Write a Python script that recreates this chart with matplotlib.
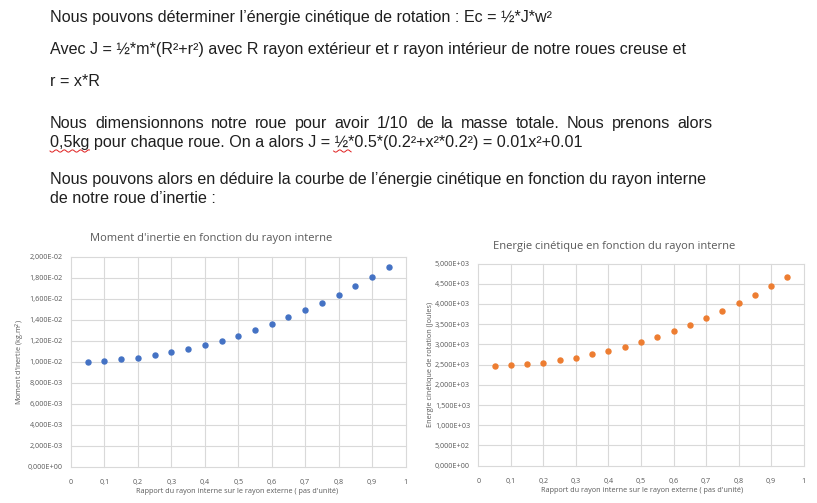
import numpy as np
import matplotlib
matplotlib.use("Agg")
import matplotlib.pyplot as plt
from matplotlib.ticker import FixedLocator, FuncFormatter

# data
ratio = [0.05, 0.1, 0.15, 0.2, 0.25, 0.3, 0.35, 0.4, 0.45, 0.5,
         0.55, 0.6, 0.65, 0.7, 0.75, 0.8, 0.85, 0.9, 0.95]
inertie = [0.01003, 0.0101, 0.01023, 0.0104, 0.01063, 0.0109, 0.01123, 0.0116, 0.01203, 0.0125,
           0.01303, 0.0136, 0.01423, 0.0149, 0.01563, 0.0164, 0.01723, 0.0181, 0.01903]
energie = [2455, 2478, 2505, 2550, 2603, 2670, 2752, 2843, 2946, 3062,
           3192, 3332, 3485, 3652, 3830, 4020, 4220, 4435, 4662]

W, H = 817, 503
fig = plt.figure(figsize=(W / 100, H / 100), dpi=100)
fig.patch.set_facecolor("white")

TXT = "#1f1f1f"
BODY = dict(fontsize=11.6, family=["Liberation Sans", "DejaVu Sans"], color=TXT, va="baseline")
BASE = 4.3  # baseline sits a bit below the visual line centre


def px(x, y):
    return x / W, 1 - y / H


def line(x, y, s):
    fig.text(*px(x, y + BASE), s, **BODY)


def width(s):
    r = fig.canvas.get_renderer()
    t = fig.text(0, 0, s, **BODY)
    w = t.get_window_extent(r).width
    t.remove()
    return w


def justified(words, x0, y, x1):
    ws = [width(w) for w in words]
    gap = (x1 - x0 - sum(ws)) / (len(words) - 1)
    x = x0
    for w, wd in zip(words, ws):
        line(x, y, w)
        x += wd + gap


def squiggle(xa, xb, y):
    xs = np.linspace(xa, xb, int((xb - xa) * 3))
    ys = y + 1.1 * np.sin((xs - xa) / 1.3)
    fig.add_artist(plt.Line2D(xs / W, 1 - ys / H, color="#e02020", lw=0.7))


line(50, 18, "Nous pouvons déterminer l’énergie cinétique de rotation : Ec = ½*J*w²")
line(50, 50, "Avec J = ½*m*(R²+r²) avec R rayon extérieur et r rayon intérieur de notre roues creuse et")
line(50, 82, "r = x*R")
justified("Nous dimensionnons notre roue pour avoir 1/10 de la masse totale. Nous prenons alors".split(),
          50, 124, 713)
line(50, 143, "0,5kg pour chaque roue. On a alors J = ½*0.5*(0.2²+x²*0.2²) = 0.01x²+0.01")
sp = width("a b") - width("ab")
squiggle(50, 50 + width("0,5kg"), 151)
hx = 50 + width("0,5kg pour chaque roue. On a alors J =") + sp
squiggle(hx - 1, hx + width("½") + 3, 151)
line(50, 180, "Nous pouvons alors en déduire la courbe de l’énergie cinétique en fonction du rayon interne")
line(50, 199, "de notre roue d’inertie :")

# charts
CH = ["Open Sans", "DejaVu Sans"]
GRID = "#d9d9d9"
LAB = "#595959"


def sci(v, pos):
    return f"{v:.3E}".replace(".", ",")


def xfmt(v, pos):
    s = f"{v:.1f}".replace(".", ",")
    return s[0] if s.endswith(",0") else s


def chart(box, x, y, col, ymax, ystep, title, tpos, ylabel, ylx, xlpos):
    ax = fig.add_axes([box[0] / W, 1 - box[3] / H, (box[2] - box[0]) / W, (box[3] - box[1]) / H])
    ax.plot(x, y, "o", color=col, ms=3.6, mec=col, clip_on=False, zorder=3)
    ax.set_xlim(0, 1)
    ax.set_ylim(0, ymax)
    ax.xaxis.set_major_locator(FixedLocator(np.linspace(0, 1, 11)))
    ax.yaxis.set_major_locator(FixedLocator(np.arange(0, ymax + ystep / 2, ystep)))
    ax.xaxis.set_major_formatter(FuncFormatter(xfmt))
    ax.yaxis.set_major_formatter(FuncFormatter(sci))
    ax.grid(True, color=GRID, lw=0.8)
    ax.set_axisbelow(True)
    for g in ax.get_xgridlines() + ax.get_ygridlines():
        g.set_clip_on(False)
    for s in ax.spines.values():
        s.set_visible(False)
    ax.tick_params(length=0, labelsize=5.2, labelcolor=LAB, pad=6)
    ax.tick_params(axis="x", pad=9)
    for lab in ax.get_xticklabels() + ax.get_yticklabels():
        lab.set_family(CH)
    fig.text(*px(*tpos), title, fontsize=8, family=CH, color=LAB, ha="center", va="center")
    fig.text(*px(ylx, (box[1] + box[3]) / 2), ylabel, fontsize=5.2, family=CH, color=LAB,
             ha="center", va="center", rotation=90)
    fig.text(*px(*xlpos), "Rapport du rayon interne sur le rayon externe ( pas d'unité)",
             fontsize=5.2, family=CH, color=LAB, ha="center", va="center")
    return ax


chart((71, 257, 405.5, 466.7), ratio, inertie, "#4472C4", 0.02, 0.002,
      "Moment d'inertie en fonction du rayon interne", (211, 239),
      "Moment d'inertie (kg.m$^{2}$)", 20, (237, 491.5))
chart((478.3, 263.5, 803.7, 465.7), ratio, energie, "#ED7D31", 5000, 500,
      "Energie cinétique en fonction du rayon interne", (614, 246.5),
      "Energie cinétique de rotation (Joules)", 430, (642, 490))

fig.savefig("out.png", dpi=100)
